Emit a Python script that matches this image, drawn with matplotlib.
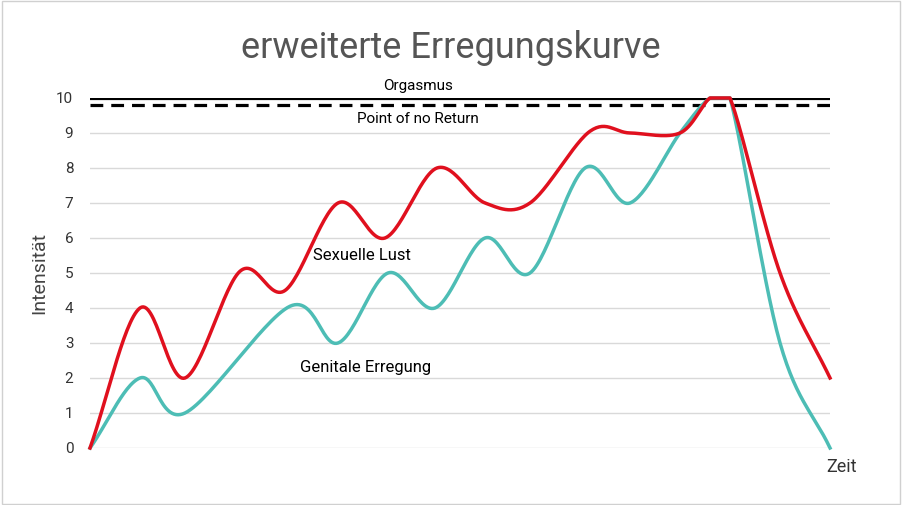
import numpy as np
import matplotlib
matplotlib.use("Agg")
import matplotlib.pyplot as plt

lust_x = [0, 5, 9.5, 15, 19.5, 24.8, 29.5, 34.7, 39.5, 44, 50, 54, 59, 62, 64, 69, 74]
lust_y = [0, 4, 2, 5.05, 4.5, 7, 6, 8, 7, 7, 9.05, 9, 9, 10, 10, 5, 2]
gen_x = [0, 5, 9.5, 20, 24.8, 29.8, 34.5, 39.5, 44, 49.5, 54, 59, 62, 64, 69, 74]
gen_y = [0, 2, 1, 4.05, 3, 5, 4, 6, 5, 8, 7, 9, 10, 10, 3, 0]
y_ticks = list(range(0, 11))

def smooth(x, y, n=30):
    x = np.asarray(x, float); y = np.asarray(y, float)
    px = np.concatenate([[2*x[0]-x[1]], x, [2*x[-1]-x[-2]]])
    py = np.concatenate([[2*y[0]-y[1]], y, [2*y[-1]-y[-2]]])
    ox, oy = [], []
    for i in range(1, len(px)-2):
        t = np.linspace(0, 1, n, endpoint=False)
        for P, out in ((px, ox), (py, oy)):
            p0, p1, p2, p3 = P[i-1], P[i], P[i+1], P[i+2]
            out.extend(0.5*((2*p1) + (-p0+p2)*t + (2*p0-5*p1+4*p2-p3)*t**2 + (-p0+3*p1-3*p2+p3)*t**3))
    ox.append(x[-1]); oy.append(y[-1])
    return np.array(ox), np.minimum(np.array(oy), max(y))

fig = plt.figure(figsize=(9.02, 5.05), dpi=100)
fig.patches.append(plt.Rectangle((0.002, 0.002), 0.996, 0.996, transform=fig.transFigure,
                                 fill=False, edgecolor="#d0d0d0", lw=1))
ax = fig.add_axes([0.0998, 0.1129, 0.8204, 0.6931])
ax.set_xlim(0, 74); ax.set_ylim(0, 10)
ax.set_yticks(y_ticks)
ax.set_xticks([])
ax.grid(axis="y", color="#d9d9d9", lw=1)
ax.set_axisbelow(True)
for s in ax.spines.values():
    s.set_visible(False)
ax.tick_params(axis="y", length=0, labelsize=11, labelcolor="#333333", pad=12)
for l in ax.get_yticklabels():
    l.set_fontfamily("Roboto")
ax.axhline(10, color="black", lw=2.3)
ax.axhline(9.8, color="black", lw=2.3, ls=(0, (4, 2.5)))
gx, gy = smooth(gen_x, gen_y)
ax.plot(gx, gy, color="#4dbdb5", lw=2.5, clip_on=False)
lx, ly = smooth(lust_x, lust_y)
ax.plot(lx, ly, color="#e0101e", lw=2.5, clip_on=False)
ax.text(32.8, 10.15, "Orgasmus", ha="center", va="bottom", fontsize=11, family="Roboto")
ax.text(32.8, 9.6, "Point of no Return", ha="center", va="top", fontsize=11, family="Roboto")
ax.text(22.3, 5.5, "Sexuelle Lust", ha="left", va="center", fontsize=12, family="Roboto")
ax.text(21, 2.3, "Genitale Erregung", ha="left", va="center", fontsize=12, family="Roboto")
ax.text(75.2, -0.3, "Zeit", ha="center", va="top", fontsize=13, family="Roboto", color="#333333")
ax.set_ylabel("Intensität", fontsize=14, family="Roboto", color="#444444", labelpad=6)
fig.text(0.5, 0.905, "erweiterte Erregungskurve", ha="center", va="center",
         fontsize=26, family="Roboto", color="#555555")
fig.savefig("out.png", dpi=100)
